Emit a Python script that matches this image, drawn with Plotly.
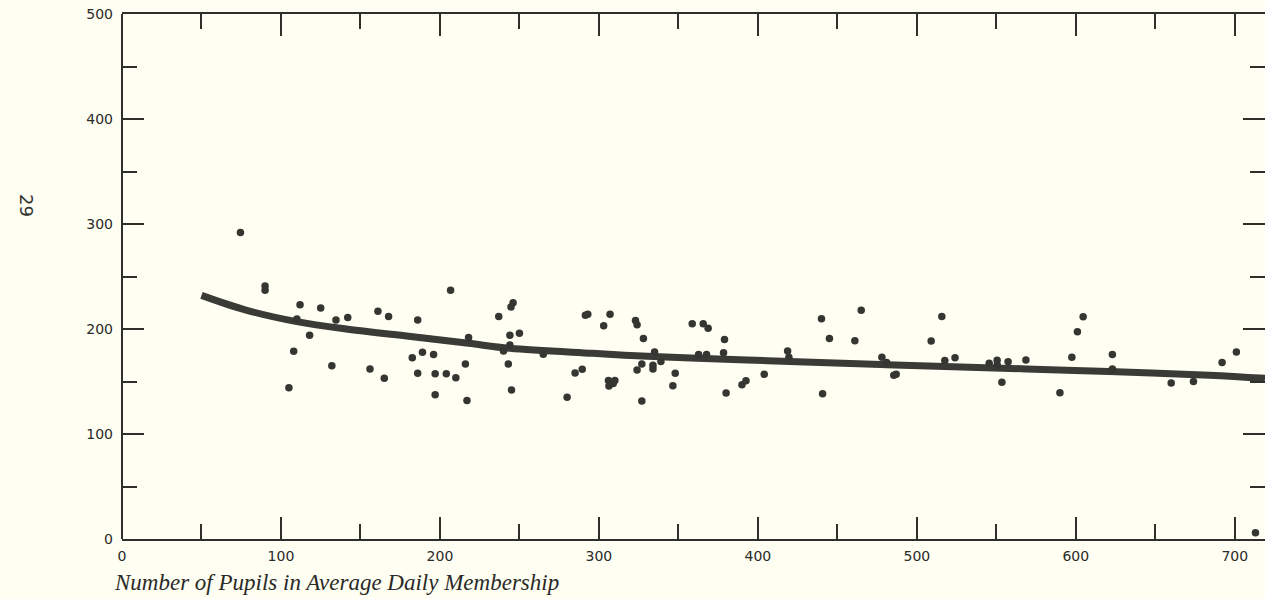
import plotly.graph_objects as go

# Scatter data: pupils in average daily membership vs. cost per pupil
pupils = [74.5, 90, 90, 112, 125, 134.6, 142, 161, 167.7, 186, 206.7, 118, 108, 132,
          156, 165, 105, 182.6, 189, 196, 216, 186, 197, 204, 210, 197, 217, 218, 110,
          246, 244.7, 237, 244, 250, 244, 240, 243, 245, 265, 293, 291.5, 307, 303,
          323, 324, 328, 285, 289.5, 280, 306, 310, 306.3, 309, 324, 327, 334, 334,
          335, 339, 327, 348, 346.5, 358.7, 365.6, 368.7, 379, 378.4, 362.7, 367.7,
          380, 390, 392.5, 404, 418.7, 419.5, 440, 445, 440.7, 465, 461, 478, 481,
          487, 485.5, 515.7, 509, 517.6, 524, 545.5, 550.5, 557.4, 568.6, 550.5,
          553.5, 590, 597.5, 601, 604.6, 623, 623, 660, 674, 692, 701, 713]
cost = [292, 241, 237, 223, 220, 208.6, 211, 217, 212, 208.6, 237, 194, 178.7, 165,
        162, 153, 144, 172.7, 177.8, 175.6, 166.7, 157.8, 157.5, 157.5, 153.6, 137.5,
        132, 192, 209.5, 225, 221, 212, 194, 196, 184.8, 179, 166.7, 142, 176, 214,
        213, 214, 203, 208, 204, 191, 158, 161.6, 135, 151, 151, 145.7, 148, 161,
        166.7, 162, 165.5, 178, 169, 131.4, 157.8, 146, 205, 205, 200.7, 190, 177.5,
        175.6, 175.6, 139, 147, 150.8, 156.9, 179, 173, 209.8, 191, 138.4, 217.8,
        188.9, 173, 168, 157, 156, 212, 188.6, 170, 172.7, 167.3, 170.2, 168.9,
        170.5, 166, 149.2, 139.4, 173, 197.5, 211.7, 175.6, 162, 148.5, 150, 168,
        178, 6]

# Fitted trend curve
fit_x = [50, 78, 110, 141, 183, 218, 244, 296, 338, 393, 420, 481, 569, 621, 684, 719]
fit_y = [232, 218, 207, 200, 192.7, 186.4, 181.6, 176.8, 173.5, 170.5, 169, 166,
         162, 159.5, 156, 153]

x_ticks = [0, 100, 200, 300, 400, 500, 600, 700]
y_ticks = [0, 100, 200, 300, 400, 500]

ink = "#2f2f2c"
bg = "#FEFEF2"
label_font = dict(family="DejaVu Sans", size=14, color="#2a2a27")

fig = go.Figure()
fig.add_trace(go.Scatter(x=fit_x, y=fit_y, mode="lines",
                         line=dict(color="#3a3a37", width=7, shape="spline"),
                         hoverinfo="skip", showlegend=False))
fig.add_trace(go.Scatter(x=pupils, y=cost, mode="markers",
                         marker=dict(color="#353532", size=7.5),
                         showlegend=False))

minor = dict(dtick=50, ticks="inside", ticklen=15, tickwidth=2, tickcolor=ink)
fig.update_xaxes(range=[0, 719], tickvals=x_ticks, ticktext=[str(v) for v in x_ticks],
                 showgrid=False, zeroline=False, showline=True, linewidth=2, linecolor=ink,
                 ticks="inside", ticklen=22, tickwidth=2, tickcolor=ink, mirror="ticks",
                 tickfont=label_font, minor=minor, ticklabelstandoff=3)
fig.update_yaxes(range=[0, 500], tickvals=y_ticks, ticktext=[str(v) for v in y_ticks],
                 showgrid=False, zeroline=False, showline=False,
                 ticks="inside", ticklen=22, tickwidth=2, tickcolor=ink, mirror="ticks",
                 tickfont=label_font, minor=minor, ticklabelstandoff=8)

# left frame line (right one lies just outside the page crop)
fig.add_shape(type="line", xref="paper", yref="paper", x0=0, x1=0, y0=0, y1=1,
              line=dict(color=ink, width=2))

fig.add_annotation(text="<i>Number of Pupils in Average Daily Membership</i>",
                   xref="paper", yref="paper", x=0, y=0, xanchor="left", yanchor="middle",
                   xshift=-10, yshift=-43, showarrow=False,
                   font=dict(family="Liberation Serif", size=23, color="#2a2a28"))
fig.add_annotation(text="29", xref="paper", yref="paper", x=0, y=(539 - 205) / 525,
                   xanchor="center", yanchor="middle", xshift=-95, showarrow=False,
                   textangle=90, font=dict(family="DejaVu Sans", size=18, color="#333330"))

fig.update_layout(width=1265, height=599, margin=dict(l=122, r=0, t=14, b=60),
                  paper_bgcolor=bg, plot_bgcolor=bg, showlegend=False)

fig.write_html("out.html")
